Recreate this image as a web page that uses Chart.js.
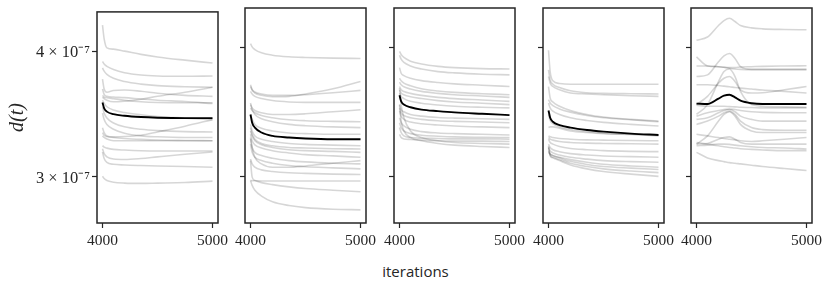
<!DOCTYPE html>
<html>
<head>
<meta charset="utf-8">
<script src="https://cdn.jsdelivr.net/npm/chart.js@4.4.1/dist/chart.umd.min.js"></script>
<style>
  body { margin: 0; background: #fff; }
  #wrap { position: relative; width: 831px; height: 288px; overflow: hidden; background: #fff; }
  #wrap canvas { position: absolute; top: 0; }
  #xlabel {
    position: absolute; left: 0; width: 831px; top: 264px;
    text-align: center; font-family: 'Open Sans', sans-serif; font-size: 15px;
    line-height: 15px; color: #262626;
  }
</style>
</head>
<body>
<div id="wrap">
  <canvas id="panel0"></canvas>
  <canvas id="panel1"></canvas>
  <canvas id="panel2"></canvas>
  <canvas id="panel3"></canvas>
  <canvas id="panel4"></canvas>
  <div id="xlabel">iterations</div>
</div>
<script>
// d(t) values are given in units of 1e-7
const xTicks = [4000, 5000];
const yTicks = [3, 4];
const yTickLabels = ['3 × 10⁻⁷', '4 × 10⁻⁷'];

const iters = [4000, 4015, 4040, 4100, 4200, 4350, 4500, 4750, 5000];
const itersBump = [4000, 4100, 4200, 4250, 4300, 4350, 4400, 4500, 4600, 4800, 5000];

const runsA = [
  [4.244, 4.114, 4.030, 4.018, 4.000, 3.970, 3.947, 3.918, 3.892],
  [3.906, 3.883, 3.863, 3.835, 3.807, 3.787, 3.779, 3.776, 3.779],
  [3.849, 3.821, 3.793, 3.759, 3.731, 3.709, 3.696, 3.687, 3.682],
  [3.751, 3.668, 3.641, 3.655, 3.660, 3.649, 3.633, 3.615, 3.607],
  [3.668, 3.623, 3.607, 3.601, 3.596, 3.585, 3.575, 3.564, 3.548],
  [3.615, 3.601, 3.596, 3.588, 3.575, 3.562, 3.556, 3.554, 3.554],
  [3.601, 3.588, 3.575, 3.562, 3.567, 3.583, 3.607, 3.641, 3.682],
  [3.575, 3.548, 3.522, 3.496, 3.476, 3.458, 3.445, 3.432, 3.420],
  [3.522, 3.471, 3.432, 3.394, 3.364, 3.345, 3.335, 3.327, 3.325],
  [3.471, 3.420, 3.382, 3.345, 3.315, 3.295, 3.288, 3.283, 3.283],
  [3.357, 3.320, 3.295, 3.288, 3.290, 3.300, 3.325, 3.369, 3.420],
  [3.320, 3.300, 3.290, 3.283, 3.276, 3.269, 3.264, 3.261, 3.259],
  [3.295, 3.283, 3.271, 3.259, 3.259, 3.259, 3.259, 3.259, 3.259],
  [3.223, 3.211, 3.204, 3.195, 3.190, 3.185, 3.183, 3.183, 3.183],
  [3.199, 3.164, 3.141, 3.125, 3.122, 3.129, 3.141, 3.160, 3.176],
  [3.176, 3.129, 3.101, 3.088, 3.083, 3.079, 3.076, 3.072, 3.067],
  [3.004, 2.989, 2.975, 2.964, 2.958, 2.956, 2.958, 2.962, 2.971]
];
const meanA = [3.556, 3.509, 3.483, 3.463, 3.450, 3.440, 3.435, 3.432, 3.432];

const runsB = [
  [4.039, 4.009, 3.985, 3.956, 3.935, 3.921, 3.915, 3.909, 3.906],
  [3.682, 3.641, 3.615, 3.596, 3.585, 3.588, 3.607, 3.649, 3.709],
  [3.668, 3.641, 3.623, 3.607, 3.596, 3.596, 3.601, 3.617, 3.636],
  [3.628, 3.607, 3.588, 3.570, 3.554, 3.543, 3.540, 3.540, 3.540],
  [3.522, 3.496, 3.476, 3.458, 3.445, 3.445, 3.450, 3.466, 3.481],
  [3.496, 3.476, 3.458, 3.437, 3.420, 3.404, 3.397, 3.392, 3.389],
  [3.535, 3.483, 3.445, 3.412, 3.389, 3.369, 3.359, 3.350, 3.345],
  [3.445, 3.407, 3.369, 3.340, 3.320, 3.305, 3.300, 3.295, 3.295],
  [3.369, 3.320, 3.283, 3.259, 3.242, 3.228, 3.221, 3.216, 3.211],
  [3.345, 3.295, 3.259, 3.228, 3.211, 3.199, 3.195, 3.190, 3.188],
  [3.320, 3.283, 3.247, 3.218, 3.199, 3.183, 3.176, 3.171, 3.164],
  [3.295, 3.247, 3.218, 3.195, 3.176, 3.160, 3.148, 3.139, 3.129],
  [3.271, 3.199, 3.129, 3.083, 3.060, 3.060, 3.069, 3.088, 3.106],
  [3.259, 3.199, 3.164, 3.141, 3.122, 3.106, 3.097, 3.088, 3.083],
  [3.223, 3.164, 3.129, 3.106, 3.088, 3.072, 3.063, 3.056, 3.049],
  [3.118, 3.083, 3.060, 3.042, 3.031, 3.022, 3.018, 3.013, 3.011],
  [2.971, 2.969, 2.969, 2.967, 2.967, 2.967, 2.967, 2.967, 2.967],
  [3.106, 2.993, 2.971, 2.956, 2.943, 2.928, 2.917, 2.906, 2.896],
  [2.971, 2.938, 2.906, 2.868, 2.832, 2.808, 2.795, 2.785, 2.781]
];
const meanB = [3.445, 3.382, 3.345, 3.308, 3.283, 3.271, 3.264, 3.259, 3.259];

const runsC = [
  [3.970, 3.941, 3.915, 3.883, 3.858, 3.838, 3.827, 3.818, 3.815],
  [3.935, 3.900, 3.872, 3.841, 3.815, 3.793, 3.782, 3.771, 3.765],
  [3.827, 3.779, 3.759, 3.737, 3.717, 3.701, 3.690, 3.679, 3.668],
  [3.737, 3.715, 3.696, 3.674, 3.649, 3.631, 3.620, 3.609, 3.601],
  [3.704, 3.682, 3.666, 3.647, 3.628, 3.612, 3.601, 3.591, 3.580],
  [3.668, 3.641, 3.628, 3.612, 3.596, 3.580, 3.570, 3.559, 3.548],
  [3.641, 3.615, 3.601, 3.585, 3.570, 3.554, 3.543, 3.533, 3.522],
  [3.615, 3.588, 3.570, 3.548, 3.533, 3.519, 3.509, 3.501, 3.496],
  [3.522, 3.483, 3.466, 3.445, 3.432, 3.422, 3.417, 3.412, 3.407],
  [3.496, 3.458, 3.437, 3.420, 3.407, 3.397, 3.392, 3.387, 3.382],
  [3.471, 3.432, 3.407, 3.387, 3.374, 3.364, 3.357, 3.350, 3.345],
  [3.420, 3.382, 3.357, 3.332, 3.315, 3.305, 3.300, 3.295, 3.290],
  [3.382, 3.345, 3.320, 3.300, 3.288, 3.281, 3.276, 3.273, 3.271],
  [3.345, 3.308, 3.283, 3.271, 3.266, 3.264, 3.261, 3.261, 3.259],
  [3.295, 3.271, 3.261, 3.257, 3.252, 3.247, 3.245, 3.245, 3.242],
  [3.655, 3.522, 3.420, 3.320, 3.271, 3.247, 3.235, 3.228, 3.223],
  [3.522, 3.394, 3.320, 3.271, 3.247, 3.228, 3.216, 3.206, 3.199]
];
const meanC = [3.596, 3.548, 3.522, 3.501, 3.483, 3.471, 3.461, 3.450, 3.440];

const runsD = [
  [3.979, 3.793, 3.715, 3.693, 3.687, 3.687, 3.687, 3.687, 3.687],
  [3.807, 3.723, 3.687, 3.660, 3.633, 3.617, 3.612, 3.609, 3.607],
  [3.751, 3.696, 3.668, 3.641, 3.615, 3.607, 3.601, 3.593, 3.588],
  [3.668, 3.575, 3.543, 3.509, 3.476, 3.445, 3.425, 3.407, 3.394],
  [3.562, 3.535, 3.514, 3.488, 3.463, 3.437, 3.420, 3.404, 3.389],
  [3.535, 3.496, 3.471, 3.445, 3.420, 3.399, 3.384, 3.369, 3.357],
  [3.445, 3.399, 3.374, 3.350, 3.330, 3.315, 3.303, 3.293, 3.283],
  [3.345, 3.350, 3.350, 3.340, 3.320, 3.308, 3.300, 3.295, 3.290],
  [3.283, 3.276, 3.271, 3.264, 3.259, 3.254, 3.252, 3.249, 3.247],
  [3.271, 3.259, 3.252, 3.242, 3.235, 3.230, 3.228, 3.226, 3.223],
  [3.259, 3.235, 3.223, 3.206, 3.192, 3.183, 3.176, 3.171, 3.169],
  [3.223, 3.199, 3.183, 3.169, 3.155, 3.145, 3.138, 3.134, 3.129],
  [3.199, 3.176, 3.160, 3.145, 3.129, 3.116, 3.106, 3.099, 3.095],
  [3.176, 3.152, 3.141, 3.129, 3.113, 3.095, 3.081, 3.069, 3.060],
  [3.164, 3.152, 3.141, 3.125, 3.101, 3.079, 3.065, 3.054, 3.045],
  [3.211, 3.141, 3.129, 3.113, 3.088, 3.065, 3.049, 3.034, 3.023],
  [3.199, 3.141, 3.125, 3.106, 3.076, 3.049, 3.031, 3.013, 2.998]
];
const meanD = [3.476, 3.420, 3.389, 3.364, 3.345, 3.327, 3.315, 3.300, 3.290];

const runsE = [
  [4.069, 4.099, 4.206, 4.253, 4.275, 4.244, 4.206, 4.184, 4.175, 4.169, 4.166],
  [3.751, 3.765, 3.878, 3.929, 3.950, 3.906, 3.835, 3.812, 3.812, 3.812, 3.812],
  [3.921, 3.841, 3.835, 3.830, 3.821, 3.815, 3.812, 3.810, 3.810, 3.810, 3.810],
  [3.841, 3.841, 3.835, 3.830, 3.827, 3.827, 3.832, 3.835, 3.838, 3.841, 3.843],
  [3.682, 3.682, 3.676, 3.671, 3.666, 3.660, 3.655, 3.647, 3.639, 3.628, 3.615],
  [3.522, 3.588, 3.696, 3.737, 3.751, 3.709, 3.641, 3.615, 3.617, 3.641, 3.668],
  [3.445, 3.522, 3.709, 3.793, 3.815, 3.751, 3.628, 3.522, 3.509, 3.504, 3.501],
  [3.517, 3.509, 3.509, 3.509, 3.506, 3.504, 3.501, 3.499, 3.496, 3.496, 3.496],
  [3.432, 3.458, 3.476, 3.483, 3.488, 3.483, 3.476, 3.466, 3.461, 3.458, 3.458],
  [3.407, 3.420, 3.458, 3.476, 3.483, 3.466, 3.432, 3.407, 3.394, 3.394, 3.394],
  [3.369, 3.394, 3.432, 3.458, 3.471, 3.445, 3.394, 3.345, 3.330, 3.325, 3.325],
  [3.223, 3.283, 3.394, 3.445, 3.466, 3.432, 3.369, 3.320, 3.308, 3.308, 3.308],
  [3.295, 3.283, 3.271, 3.264, 3.259, 3.254, 3.247, 3.242, 3.247, 3.259, 3.271],
  [3.223, 3.228, 3.259, 3.271, 3.276, 3.259, 3.235, 3.223, 3.223, 3.223, 3.223],
  [3.211, 3.216, 3.223, 3.223, 3.221, 3.216, 3.211, 3.204, 3.199, 3.195, 3.188],
  [3.235, 3.223, 3.211, 3.204, 3.199, 3.195, 3.190, 3.185, 3.181, 3.176, 3.176],
  [3.164, 3.125, 3.106, 3.099, 3.092, 3.088, 3.083, 3.074, 3.065, 3.051, 3.038]
];
const meanE = [3.530, 3.527, 3.570, 3.593, 3.601, 3.580, 3.554, 3.533, 3.527, 3.527, 3.527];

const panels = [
  { xs: iters, runs: runsA, mean: meanA },
  { xs: iters, runs: runsB, mean: meanB },
  { xs: iters, runs: runsC, mean: meanC },
  { xs: iters, runs: runsD, mean: meanD },
  { xs: itersBump, runs: runsE, mean: meanE }
];

const frameLeft = [97, 245, 394, 543, 691];
const frameWidth = 121;
const leftRoom = [97, 24, 24, 24, 24];
const rightRoom = 24;
const ink = '#262626';

const framePlugin = {
  id: 'frame',
  afterDraw(chart) {
    const a = chart.chartArea;
    const ctx = chart.ctx;
    ctx.save();
    ctx.strokeStyle = ink;
    ctx.lineWidth = 1.5;
    ctx.strokeRect(a.left, a.top, a.right - a.left, a.bottom - a.top);
    ctx.restore();
  }
};

function toPoints(xs, ys) {
  return ys.map((y, i) => ({ x: xs[i], y: y }));
}

panels.forEach((p, i) => {
  const canvas = document.getElementById('panel' + i);
  const w = leftRoom[i] + frameWidth + rightRoom;
  canvas.width = w;
  canvas.height = 253;
  canvas.style.left = (frameLeft[i] - leftRoom[i]) + 'px';
  canvas.style.width = w + 'px';
  canvas.style.height = '253px';

  const datasets = p.runs.map(r => ({
    data: toPoints(p.xs, r),
    borderColor: 'rgba(0, 0, 0, 0.16)',
    borderWidth: 1.6,
    pointRadius: 0,
    cubicInterpolationMode: 'monotone'
  }));
  datasets.push({
    data: toPoints(p.xs, p.mean),
    borderColor: '#000',
    borderWidth: 1.9,
    pointRadius: 0,
    cubicInterpolationMode: 'monotone'
  });

  new Chart(canvas.getContext('2d'), {
    type: 'line',
    data: { datasets: datasets },
    plugins: [framePlugin],
    options: {
      responsive: false,
      animation: false,
      events: [],
      layout: { padding: { top: 8, right: rightRoom, left: 0, bottom: 0 } },
      plugins: { legend: { display: false }, tooltip: { enabled: false } },
      scales: {
        x: {
          type: 'linear',
          min: 3950,
          max: 5050,
          afterBuildTicks: s => { s.ticks = xTicks.map(v => ({ value: v })); },
          afterFit: s => { s.height = 30; },
          grid: { drawOnChartArea: false, drawTicks: true, tickLength: 5, tickWidth: 1.2, tickColor: ink },
          border: { display: false },
          ticks: {
            autoSkip: false,
            maxRotation: 0,
            padding: 4,
            color: ink,
            font: { family: 'Liberation Serif', size: 15.5 },
            callback: v => String(v)
          }
        },
        y: {
          type: 'logarithmic',
          min: 2.709,
          max: 4.375,
          afterBuildTicks: s => { s.ticks = yTicks.map(v => ({ value: v })); },
          afterFit: s => { s.width = leftRoom[i]; },
          grid: { drawOnChartArea: false, drawTicks: true, tickLength: 5, tickWidth: 1.2, tickColor: ink },
          border: { display: false },
          title: {
            display: i === 0,
            text: 'd(t)',
            color: ink,
            padding: { top: 6, bottom: 0 },
            font: { family: 'Liberation Serif', style: 'italic', size: 20 }
          },
          ticks: {
            display: i === 0,
            autoSkip: false,
            padding: 2,
            labelOffset: 2,
            color: ink,
            font: { family: 'Liberation Serif', size: 16.5 },
            callback: (v, idx) => yTickLabels[idx]
          }
        }
      }
    }
  });
});
</script>
</body>
</html>
